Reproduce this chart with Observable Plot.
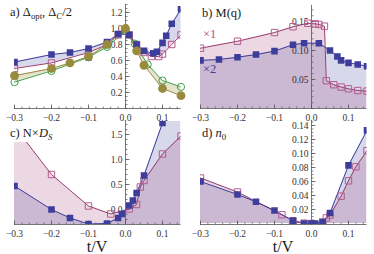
<!DOCTYPE html>
<html><head><meta charset="utf-8">
<script src="https://cdn.jsdelivr.net/npm/d3@7"></script>
<script src="https://cdn.jsdelivr.net/npm/@observablehq/plot@0.6"></script>
<style>
body{margin:0;background:#fff;}
#wrap{position:relative;width:374px;height:254px;overflow:hidden;font-family:"Liberation Serif","Times New Roman",serif;}
.pan{position:absolute;}
.ttl{position:absolute;font-size:12.5px;line-height:14px;color:#1a1a1a;white-space:nowrap;}
.ttl sub{font-size:70%;vertical-align:-0.35em;line-height:0;}
.xl{position:absolute;font-size:16px;line-height:13px;color:#1a1a1a;text-align:center;width:166px;}
</style></head><body><div id="wrap"></div>
<script>
// ---- data (t/V , value) ----
// panel a
const aBlue = [[-0.3,0.58],[-0.2,0.675],[-0.15,0.70],[-0.1,0.75],[-0.05,0.83],[-0.02,0.93],[0.01,0.92],[0.03,0.80],[0.05,0.72],[0.075,0.69],[0.085,0.71],[0.1,0.82],[0.11,0.91],[0.125,1.06],[0.15,1.24]];
const aBlueExtra = [[-0.1,0.64]];
const aPink = [[-0.3,0.50],[-0.2,0.57],[-0.1,0.70],[-0.05,0.80],[-0.02,0.92],[0,0.97],[0.01,0.92],[0.03,0.80],[0.05,0.70],[0.07,0.65],[0.09,0.65],[0.1,0.68],[0.125,0.80],[0.15,0.92]];
const aGreen = [[-0.3,0.33],[-0.2,0.47],[-0.1,0.64],[-0.05,0.77],[0,0.97],[0.025,0.81],[0.06,0.55],[0.1,0.35],[0.15,0.27]];
const aOlive = [[-0.3,0.41],[-0.2,0.50],[-0.15,0.57],[-0.1,0.65],[-0.05,0.80],[0,1.0],[0.03,0.72],[0.05,0.54],[0.1,0.25],[0.15,0.16]];
// panel b
const bPink = [[-0.3,0.104],[-0.2,0.116],[-0.1,0.131],[-0.05,0.141],[-0.01,0.147],[0.01,0.146],[0.02,0.145],[0.035,0.142],[0.04,0.048],[0.06,0.041],[0.08,0.037],[0.1,0.034],[0.125,0.031],[0.15,0.030]];
const bBlue = [[-0.3,0.083],[-0.25,0.0845],[-0.2,0.0885],[-0.15,0.093],[-0.1,0.099],[-0.05,0.110],[-0.02,0.1126],[0.02,0.1126],[0.05,0.100],[0.07,0.0897],[0.08,0.083],[0.1,0.0787],[0.125,0.076],[0.15,0.073]];
// panel c
const cPink = [[-0.3,1.66],[-0.2,0.70],[-0.1,0.07],[-0.04,-0.09],[0.01,0.01],[0.03,0.10],[0.04,0.45],[0.05,0.58],[0.1,1.11],[0.15,1.47]];
const cBlue = [[-0.3,0.47],[-0.2,0.0],[-0.15,-0.17],[-0.1,-0.29],[-0.05,-0.28],[-0.02,-0.17],[-0.01,-0.09],[0.01,0.08],[0.02,0.18],[0.03,0.33],[0.05,0.68],[0.1,1.73],[0.15,2.8]];
// panel d
const dPink = [[-0.3,0.065],[-0.2,0.045],[-0.08,0.0125],[-0.05,0.004],[-0.02,0.0005],[0,0],[0.03,0.002],[0.04,0.008],[0.05,0.012],[0.08,0.039],[0.1,0.061],[0.12,0.081],[0.15,0.104]];
const dBlue = [[-0.3,0.060],[-0.2,0.0415],[-0.15,0.031],[-0.1,0.0186],[-0.05,0.004],[-0.02,0],[0,0],[0.01,0],[0.03,0.002],[0.05,0.015],[0.1,0.083],[0.15,0.133]];

// ticks
const xMajor = [-0.3,-0.2,-0.1,0,0.1];
const aYTicks = [0.2,0.4,0.6,0.8,1.0,1.2];
const bYTicks = [0.05,0.10,0.15];
const cYTicks = [0,0.5,1.0,1.5];
const dYTicks = [0.02,0.04,0.06,0.08,0.10,0.12,0.14];

// ---- styles ----
const BLUE = "#3d3d9c", PINK = "#993d71", PINKM = "#b35c8d", OLIVE = "#998b3d", GREEN = "#40a04c";
const AX = "#555", TXT = "#333";
const fmt1 = d3.format(".1f"), fmt2 = d3.format(".2f");
const xMinor = d3.range(-15, 8).map(i => i * 0.02);
const tickUp = len => ({draw(ctx){ctx.moveTo(0,0);ctx.lineTo(0,-len);}});
const tickRight = len => ({draw(ctx){ctx.moveTo(0,0);ctx.lineTo(len,0);}});

function band(A, B){
  const n = Math.max(A.length, B.length);
  return d3.range(n).map(i => ({a: A[Math.min(i, A.length-1)], b: B[Math.min(i, B.length-1)]}));
}
const line = (d, c) => Plot.line(d, {x: p=>p[0], y: p=>p[1], stroke: c, strokeWidth: 1, clip: true});
const sqF = (d, c) => Plot.dot(d, {x: p=>p[0], y: p=>p[1], symbol: "square", r: 3.7, fill: c, clip: true});
const sqO = (d, c) => Plot.dot(d, {x: p=>p[0], y: p=>p[1], symbol: "square", r: 3.6, fill: "none", stroke: c, strokeWidth: 1, clip: true});
const toBase = (d, c, base, op) => Plot.areaY(d, {x: p=>p[0], y1: () => base, y2: p=>p[1], fill: c, fillOpacity: op, clip: true});

const wrap = document.getElementById("wrap");

function panel(o){
  const y0 = o.ydom[0];
  const minorY = d3.range(Math.ceil(o.ydom[0]/o.ystep), Math.floor(o.ydom[1]/o.ystep)+1).map(i => i*o.ystep);
  const marks = [
    ...o.fills,
    Plot.ruleY([y0], {stroke: AX, strokeWidth: 0.8}),
    Plot.ruleX([0], {stroke: AX, strokeWidth: 0.8}),
    Plot.dot(xMinor, {x: d=>d, y: () => y0, symbol: tickUp(2), fill: "none", stroke: AX, strokeWidth: 0.7}),
    Plot.dot(xMajor, {x: d=>d, y: () => y0, symbol: tickUp(4), fill: "none", stroke: AX, strokeWidth: 0.8}),
    Plot.dot(minorY, {x: () => 0, y: d=>d, symbol: tickRight(2), fill: "none", stroke: AX, strokeWidth: 0.7}),
    Plot.dot(o.yticks, {x: () => 0, y: d=>d, symbol: tickRight(4), fill: "none", stroke: AX, strokeWidth: 0.8}),
    Plot.text(xMajor, {x: d=>d, y: () => y0, text: d => fmt1(d), dy: 9, fill: TXT, fontSize: 9.5}),
    Plot.text(o.yticks, {x: () => 0, y: d=>d, text: o.yfmt, textAnchor: "end", dx: -3, fill: TXT, fontSize: 9.5}),
    ...o.data
  ];
  const svg = Plot.plot({
    width: o.w, height: o.h,
    marginLeft: 14, marginRight: 7.5, marginTop: o.mt, marginBottom: o.mb,
    x: {domain: [-0.3, 0.15], axis: null},
    y: {domain: o.ydom, axis: null},
    style: {background: "transparent", overflow: "visible", fontFamily: "'Liberation Serif', serif"},
    marks
  });
  svg.classList.add("pan");
  svg.style.left = o.left + "px";
  svg.style.top = o.top + "px";
  svg.style.position = "absolute";
  wrap.appendChild(svg);
}

// a
panel({left: 0, top: 0, w: 188, h: 124, mt: 4, mb: 16, ydom: [0, 1.3], ystep: 0.05, yticks: aYTicks, yfmt: d => fmt1(d),
  fills: [
    Plot.area(band(aBlue, aPink), {x1: d=>d.a[0], y1: d=>d.a[1], x2: d=>d.b[0], y2: d=>d.b[1], fill: BLUE, fillOpacity: 0.2}),
    Plot.area(band(aGreen, aOlive), {x1: d=>d.a[0], y1: d=>d.a[1], x2: d=>d.b[0], y2: d=>d.b[1], fill: OLIVE, fillOpacity: 0.25})
  ],
  data: [
    line(aPink, PINK), line(aBlue, BLUE), line(aGreen, GREEN), line(aOlive, OLIVE),
    sqO(aPink, PINKM),
    Plot.dot(aGreen, {x: p=>p[0], y: p=>p[1], r: 3.6, fill: "none", stroke: GREEN, strokeWidth: 1}),
    sqF(aBlue, BLUE), sqF(aBlueExtra, BLUE),
    Plot.dot(aOlive, {x: p=>p[0], y: p=>p[1], r: 4.4, fill: OLIVE})
  ]});

// b
panel({left: 186, top: 0, w: 188, h: 124, mt: 4.8, mb: 16, ydom: [0, 0.178], ystep: 0.01, yticks: bYTicks, yfmt: d => fmt2(d),
  fills: [toBase(bBlue, BLUE, 0, 0.2), toBase(bPink, PINK, 0, 0.2)],
  data: [line(bPink, PINK), line(bBlue, BLUE), sqO(bPink, PINKM), sqF(bBlue, BLUE)]});

// c
panel({left: 0, top: 118, w: 188, h: 136, mt: 3, mb: 30, ydom: [-0.3, 1.76], ystep: 0.1, yticks: cYTicks, yfmt: d => fmt1(d),
  fills: [toBase(cBlue, BLUE, -0.3, 0.2), toBase(cPink, PINK, -0.3, 0.2)],
  data: [line(cPink, PINK), line(cBlue, BLUE), sqO(cPink, PINKM), sqF(cBlue, BLUE)]});

// d
panel({left: 186, top: 118, w: 188, h: 136, mt: 3, mb: 30, ydom: [-0.0014, 0.1457], ystep: 0.005, yticks: dYTicks, yfmt: d => fmt2(d),
  fills: [toBase(dBlue, BLUE, 0, 0.2), toBase(dPink, PINK, 0, 0.2)],
  data: [line(dPink, PINK), line(dBlue, BLUE), sqO(dPink, PINKM), sqF(dBlue, BLUE)]});

// titles and labels
function addDiv(cls, html, css){
  const d = document.createElement("div");
  d.className = cls; d.innerHTML = html; Object.assign(d.style, css); wrap.appendChild(d);
}
addDiv("ttl", "a) Δ<sub>opt</sub>, Δ<sub><i>C</i></sub>/2", {left: "10px", top: "5px"});
addDiv("ttl", "b) M(q)", {left: "202px", top: "5.5px"});
addDiv("ttl", "×1", {left: "203px", top: "27px", color: "#b0508a"});
addDiv("ttl", "×2", {left: "203px", top: "62px", color: BLUE});
addDiv("ttl", "c) N×<i>D</i><sub><i>S</i></sub>", {left: "8px", top: "121px", padding: "4.5px 4px 2px 2px", background: "#fff"});
addDiv("ttl", "d) <i>n</i><sub>0</sub>", {left: "202px", top: "125.5px"});
addDiv("xl", "t/V", {left: "14px", top: "239.5px"});
addDiv("xl", "t/V", {left: "200px", top: "239.5px"});
</script></body></html>
